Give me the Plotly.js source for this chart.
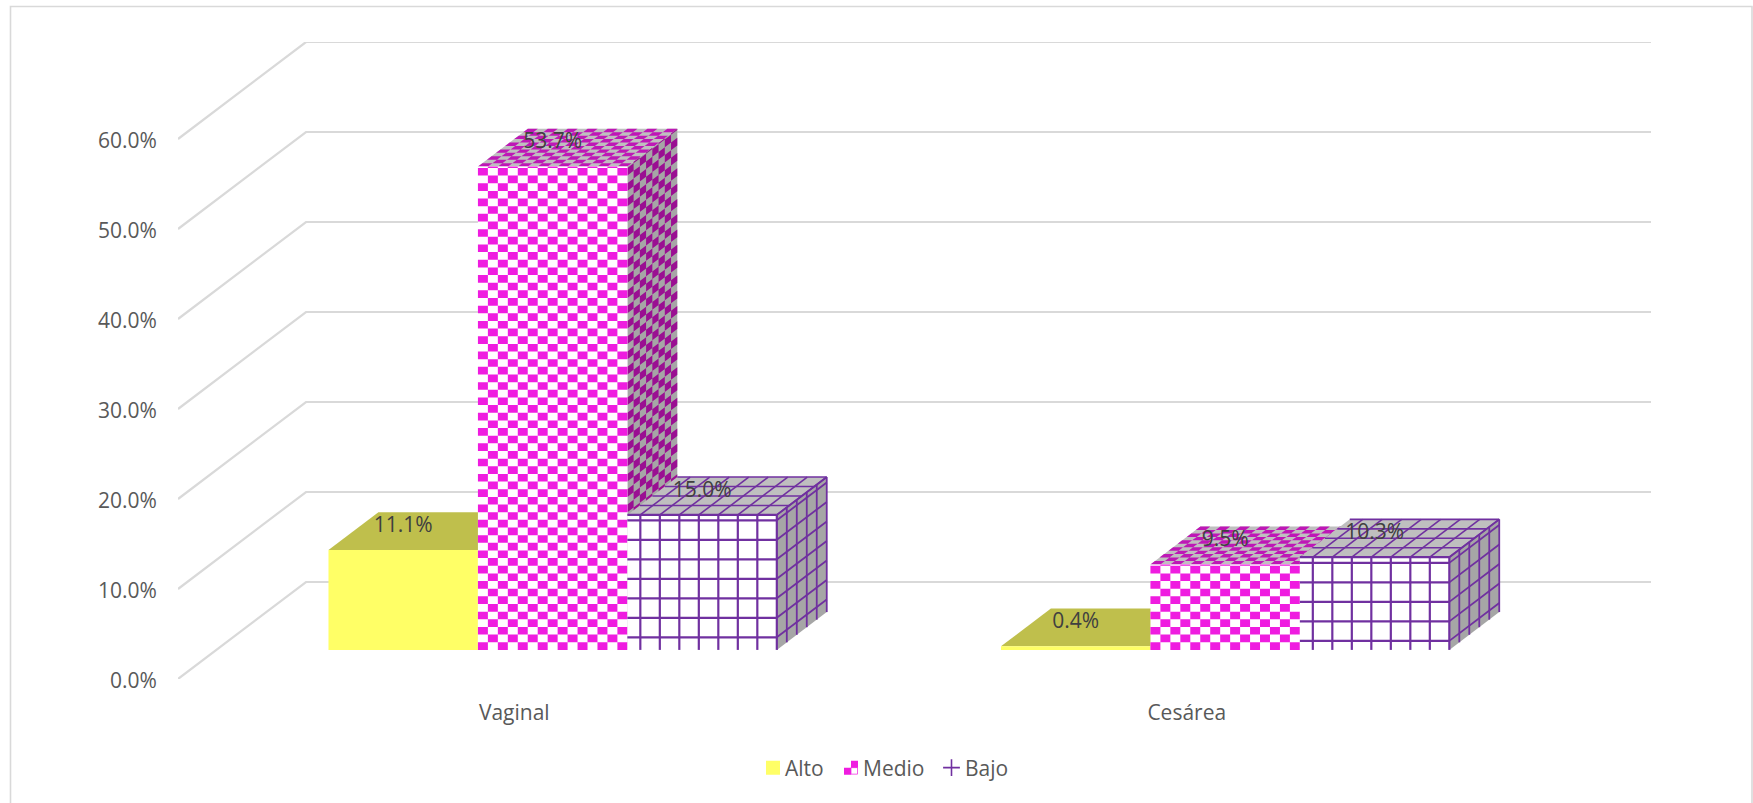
<!DOCTYPE html>
<html>
<head>
<meta charset="utf-8">
<script src="https://cdn.plot.ly/plotly-3.0.1.min.js"></script>
<style>html,body{margin:0;padding:0;background:#fff;overflow:hidden}#chart{width:1753px;height:803px}</style>
</head>
<body>
<div id="chart"></div>
<script>
// ---- data ----
const categories = ['Vaginal', 'Cesárea'];
const seriesNames = ['Alto', 'Medio', 'Bajo'];
const alto  = [11.1, 0.4];
const medio = [53.7, 9.5];
const bajo  = [15.0, 10.3];
const yTicks = [0, 10, 20, 30, 40, 50, 60];

// ---- projection of the fake 3D box (axis units) ----
const DEPTH_X = 128 / 672.5, DEPTH_Y = 97 / 9;
const BAR_D0 = 0.30, BAR_DEPTH = 0.39;
const BAR_W = 1 / 4.5;
const project = (x, v, d) => [x + d * DEPTH_X, v + d * DEPTH_Y];

const traces = [];
const FONT = 'Open Sans, sans-serif';
const FS = 21;

function polyTrace(x, y, color) {
  traces.push({x, y, type: 'scatter', mode: 'none', fill: 'toself', fillcolor: color,
    showlegend: false, hoverinfo: 'skip', cliponaxis: false});
}
function lineTrace(x, y, color, width) {
  traces.push({x, y, type: 'scatter', mode: 'lines', line: {color, width, simplify: false},
    showlegend: false, hoverinfo: 'skip', cliponaxis: false});
}
// a face is an origin + two edge vectors; a cell is (a..b, c..e) in edge fractions
function facePoly(f, a, b, c, e, X, Y) {
  [[a, c], [b, c], [b, e], [a, e]].forEach(([s, t]) => {
    X.push(f.o[0] + s * f.u[0] + t * f.v[0]);
    Y.push(f.o[1] + s * f.u[1] + t * f.v[1]);
  });
  X.push(null); Y.push(null);
}
function solid(f, color) { const X = [], Y = []; facePoly(f, 0, 1, 0, 1, X, Y); polyTrace(X, Y, color); }
function checker(f, nu, nv, color) {
  const X = [], Y = [];
  for (let i = 0; i < nu; i++) for (let j = 0; j < Math.ceil(nv); j++) {
    if ((i + j) % 2) continue;
    facePoly(f, i / nu, (i + 1) / nu, j / nv, Math.min(1, (j + 1) / nv), X, Y);
  }
  if (X.length) polyTrace(X, Y, color);
}
function faceLine(f, s0, t0, s1, t1, X, Y) {
  X.push(f.o[0] + s0 * f.u[0] + t0 * f.v[0], f.o[0] + s1 * f.u[0] + t1 * f.v[0], null);
  Y.push(f.o[1] + s0 * f.u[1] + t0 * f.v[1], f.o[1] + s1 * f.u[1] + t1 * f.v[1], null);
}

function faces(xLeft, value) {
  const o = project(xLeft, 0, BAR_D0);
  const dx = BAR_DEPTH * DEPTH_X, dy = BAR_DEPTH * DEPTH_Y;
  return {
    front: {o, u: [BAR_W, 0], v: [0, value]},
    side: {o: [o[0] + BAR_W, o[1]], u: [dx, dy], v: [0, value]},
    top: {o: [o[0], o[1] + value], u: [BAR_W, 0], v: [dx, dy]}
  };
}

// gridlines (wall + left side wall)
yTicks.forEach(t => {
  const a = project(0, t, 0), b = project(0, t, 1), c = project(2, t, 1);
  lineTrace([a[0], b[0], c[0]], [a[1], b[1], c[1]], '#d9d9d9', 2.2);
});

const ROW_H = 0.85, GRID_STEP_V = 19.5 / 9, GRID_STEP_X = 19.5 / 672.5;
const gridOffset = [1.4, 1.0];

function drawAlto(xl, v) {
  const f = faces(xl, v);
  solid(f.top, '#bfbf4c');
  solid(f.side, '#a6a64d');
  solid(f.front, '#ffff66');
}
function drawMedio(xl, v) {
  const f = faces(xl, v);
  solid(f.top, '#bfbfbf');  checker(f.top, 15, 11, '#be17b6');
  solid(f.side, '#a6a6a6'); checker(f.side, 8, v / ROW_H, '#9a0f92');
  solid(f.front, '#ffffff'); checker(f.front, 15, v / ROW_H, '#ef1ce0');
}
function drawBajo(xl, v, off) {
  const f = faces(xl, v);
  solid(f.top, '#bfbfbf'); solid(f.side, '#a6a6a6'); solid(f.front, '#ffffff');
  const col = '#7030a0';
  const FX = [], FY = [], SX = [], SY = [], TX = [], TY = [];
  const stepS = GRID_STEP_X / BAR_W;
  for (let s = 1; s > 0.02; s -= stepS) {
    faceLine(f.front, s, 0, s, 1, FX, FY);
    faceLine(f.top, s, 0, s, 1, TX, TY);
  }
  faceLine(f.front, 0, 1, 1, 1, FX, FY);
  for (let val = off; val < v; val += GRID_STEP_V) {
    faceLine(f.front, 0, val / v, 1, val / v, FX, FY);
    faceLine(f.side, 0, val / v, 1, val / v, SX, SY);
  }
  faceLine(f.side, 0, 1, 1, 1, SX, SY);
  for (let k = 1; k <= 5; k++) faceLine(f.side, k / 5, 0, k / 5, 1, SX, SY);
  for (let k = 1; k <= 4; k++) faceLine(f.top, 0, k / 4, 1, k / 4, TX, TY);
  lineTrace(TX, TY, col, 1.6);
  lineTrace(SX, SY, col, 1.8);
  lineTrace(FX, FY, col, 2.2);
}

categories.forEach((c, i) => {
  const left = i + 0.5 - 1.5 * BAR_W;
  drawAlto(left, alto[i]);
  drawMedio(left + BAR_W, medio[i]);
  drawBajo(left + 2 * BAR_W, bajo[i], gridOffset[i]);
});

// value labels, centred on each bar, just above its front top edge
const LABEL_LIFT = 23.5 / 9;
const lx = [], ly = [], lt = [];
categories.forEach((c, i) => {
  [alto[i], medio[i], bajo[i]].forEach((v, k) => {
    const p = project(i + 0.5 + (k - 1) * BAR_W, v + LABEL_LIFT, BAR_D0);
    lx.push(p[0]); ly.push(p[1]); lt.push(v.toFixed(1) + '%');
  });
});
traces.push({x: lx, y: ly, text: lt, type: 'scatter', mode: 'text', textposition: 'middle center',
  textfont: {family: FONT, size: FS, color: '#404040'}, showlegend: false, hoverinfo: 'skip', cliponaxis: false});

// legend entries
const legendStyle = [
  {symbol: 'square', size: 14, color: '#ffff66'},
  {symbol: 'square', size: 14, color: '#ef1ce0'},
  {symbol: 'cross-thin', size: 12, color: '#7030a0', line: {color: '#7030a0', width: 1.6}}
];
seriesNames.forEach((n, i) => traces.push({x: [null], y: [null], name: n, type: 'scatter', mode: 'markers',
  marker: legendStyle[i], hoverinfo: 'skip'}));

const L = 178, R = 102, T = 42, B = 124, W = 1753, H = 803;
const pw = W - L - R, ph = H - T - B;
const layout = {
  width: W, height: H,
  margin: {l: L, r: R, t: T, b: B, pad: 0},
  paper_bgcolor: '#fff', plot_bgcolor: 'rgba(0,0,0,0)',
  font: {family: FONT, size: FS, color: '#595959'},
  xaxis: {range: [0, 2 + DEPTH_X], tickmode: 'array', tickvals: [0.5, 1.5], ticktext: categories,
    showgrid: false, zeroline: false, showline: false, ticks: 'outside', ticklen: 15, tickcolor: 'rgba(0,0,0,0)', fixedrange: true},
  yaxis: {range: [0, 60 + DEPTH_Y], tickmode: 'array', tickvals: yTicks, ticktext: yTicks.map(t => t.toFixed(1) + '%'),
    showgrid: false, zeroline: false, showline: false, ticks: 'outside', ticklen: 16, ticklabelshift: 2, tickcolor: 'rgba(0,0,0,0)', fixedrange: true},
  showlegend: true,
  legend: {orientation: 'h', x: (886 - L) / pw, xanchor: 'center', y: (H - B - 768) / ph, yanchor: 'middle',
    font: {family: FONT, size: FS, color: '#595959'}, bgcolor: 'rgba(0,0,0,0)'},
  shapes: [{type: 'rect', xref: 'paper', yref: 'paper', layer: 'below',
    x0: (10.5 - L) / pw, x1: (1752 - L) / pw, y0: (H - B - 812) / ph, y1: (H - B - 6.5) / ph,
    line: {color: '#d9d9d9', width: 1.6}, fillcolor: 'rgba(0,0,0,0)'}]
};

const gd = document.getElementById('chart');
Plotly.newPlot(gd, traces, layout, {displayModeBar: false, staticPlot: true}).then(() => {
  // tune legend spacing and give Medio its checker swatch
  const markerX = [773, 851, 951.5], textX = [785, 863, 965];
  gd.querySelectorAll('.legend .traces').forEach((g, i) => {
    const pts = g.querySelector('.legendpoints path');
    const m = /translate\(([-\d.]+),\s*([-\d.]+)\)/.exec(g.getAttribute('transform'));
    const r = pts.getBoundingClientRect();
    const nx = +m[1] + markerX[i] - (r.left + r.right) / 2;
    g.setAttribute('transform', `translate(${nx},${m[2]})`);
    const t = g.querySelector('.legendtext');
    t.setAttribute('x', +t.getAttribute('x') + textX[i] - t.getBoundingClientRect().left);
    if (i === 1) {
      pts.setAttribute('d', 'M0,-7H7V0H0Z M-7,0H0V7H-7Z');
      const o = pts.cloneNode();
      o.setAttribute('d', 'M0,0H6.5V6.5H0Z');
      o.style.fill = 'none';
      o.style.stroke = '#ef1ce0';
      o.style.strokeWidth = '1px';
      o.style.strokeOpacity = '0.7';
      pts.parentNode.appendChild(o);
    }
  });
});
</script>
</body>
</html>
